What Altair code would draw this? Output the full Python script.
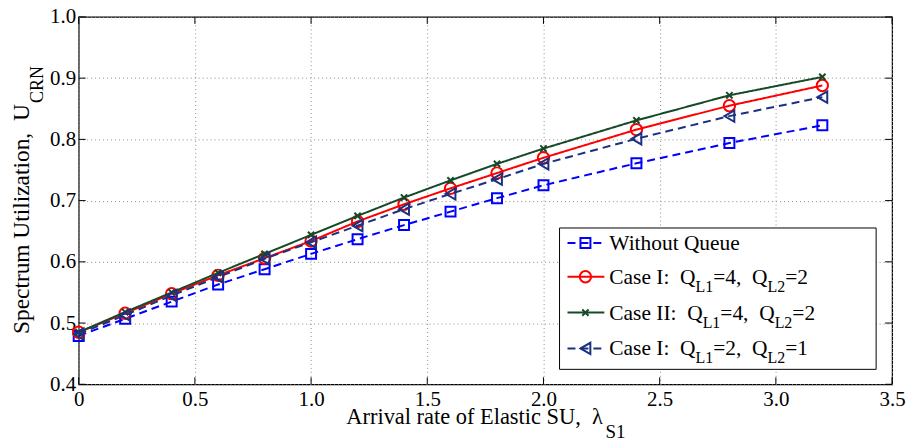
import altair as alt
import pandas as pd

# ---------------- data ----------------
x_vals = [0, 0.2, 0.4, 0.6, 0.8, 1.0, 1.2, 1.4, 1.6, 1.8, 2.0, 2.4, 2.8, 3.2]
without_queue = [0.479, 0.507, 0.535, 0.563, 0.588, 0.613, 0.637, 0.660, 0.682, 0.704, 0.725, 0.761, 0.794, 0.823]
case1_q42 = [0.485, 0.516, 0.548, 0.578, 0.606, 0.634, 0.666, 0.694, 0.720, 0.745, 0.770, 0.816, 0.855, 0.888]
case2_q42 = [0.485, 0.518, 0.550, 0.582, 0.613, 0.644, 0.675, 0.705, 0.733, 0.760, 0.785, 0.831, 0.872, 0.902]
case1_q21 = [0.482, 0.513, 0.545, 0.575, 0.605, 0.632, 0.659, 0.686, 0.711, 0.735, 0.760, 0.801, 0.838, 0.869]

series_names = ["Without Queue", "Case I 4-2", "Case II 4-2", "Case I 2-1"]
series_values = [without_queue, case1_q42, case2_q42, case1_q21]
x_ticks = [0, 0.5, 1.0, 1.5, 2.0, 2.5, 3.0, 3.5]
y_ticks = [0.4, 0.5, 0.6, 0.7, 0.8, 0.9, 1.0]

# legend label pieces: (text, is_subscript)
NB = "\u00a0"
legend_rows = [
    [("Without Queue", False)],
    [("Case I:" + NB + NB + "Q", False), ("L1", True), ("=4," + NB + NB + "Q", False), ("L2", True), ("=2", False)],
    [("Case II:" + NB + NB + "Q", False), ("L1", True), ("=4," + NB + NB + "Q", False), ("L2", True), ("=2", False)],
    [("Case I:" + NB + NB + "Q", False), ("L1", True), ("=2," + NB + NB + "Q", False), ("L2", True), ("=1", False)],
]

# ---------------- styles ----------------
colors = ["#0000ff", "#ff0000", "#154a28", "#1a3182"]
dashes = [[8, 5], [1, 0], [1, 0], [8, 5]]
shapes = ["square", "circle", "M-1,-1L1,1M-1,1L1,-1", "triangle-left"]
sizes = [100, 130, 40, 130]

FONT = "Liberation Serif"
W, H = 817, 369

# Times / Liberation Serif advance widths (per 1000 em)
TW = {" ": 250, NB: 250, ",": 250, ".": 250, ":": 278, "=": 564,
      "A": 722, "C": 667, "E": 611, "I": 333, "L": 611, "N": 722, "Q": 722,
      "R": 667, "S": 556, "U": 722, "W": 944,
      "a": 444, "c": 444, "e": 444, "f": 333, "h": 500, "i": 278, "l": 278,
      "m": 778, "n": 500, "o": 500, "p": 500, "r": 333, "s": 389, "t": 278,
      "u": 500, "v": 500, "z": 444, "\u03bb": 550}


def tw(s, size):
    return sum(TW.get(c, 500) for c in s) * size / 1000.0


rows = []
for name, vals in zip(series_names, series_values):
    for xv, yv in zip(x_vals, vals):
        rows.append({"x": xv, "u": yv, "series": name})
df = pd.DataFrame(rows)

x_scale = alt.Scale(domain=[0, 3.5], nice=False, zero=False)
y_scale = alt.Scale(domain=[0.4, 1.0], nice=False, zero=False)

x_axis = alt.Axis(values=x_ticks, title=None,
                  labelExpr="datum.value == 0 ? '0' : format(datum.value, '.1f')",
                  labelFlush=False, labelOverlap=False, labelPadding=4)
y_axis = alt.Axis(values=y_ticks, title=None, format=".1f",
                  labelFlush=False, labelOverlap=False, labelPadding=3)

xe = alt.X("x:Q", scale=x_scale, axis=x_axis)
ye = alt.Y("u:Q", scale=y_scale, axis=y_axis)

layers = []
for i, name in enumerate(series_names):
    sub = alt.Chart(df).transform_filter(alt.datum.series == name)
    line = sub.mark_line(color=colors[i], strokeWidth=2, strokeDash=dashes[i]).encode(x=xe, y=ye)
    pts = sub.mark_point(color=colors[i], filled=False, strokeWidth=2, opacity=1,
                         shape=shapes[i], size=sizes[i]).encode(x=xe, y=ye)
    layers += [line, pts]

# inward ticks (box style)
xt = pd.DataFrame({"x": x_ticks})
yt = pd.DataFrame({"u": y_ticks})
TL = 7
for y0, y1 in [(H, H - TL), (0, TL)]:
    layers.append(alt.Chart(xt).mark_rule(color="black", strokeWidth=1).encode(
        x=xe, y=alt.value(y0), y2=alt.value(y1)))
for x0, x1 in [(0, TL), (W - TL, W)]:
    layers.append(alt.Chart(yt).mark_rule(color="black", strokeWidth=1).encode(
        y=ye, x=alt.value(x0), x2=alt.value(x1)))

one = pd.DataFrame({"a": [0]})


def text_layer(txt, x, y, size, angle=0, align="left"):
    return alt.Chart(pd.DataFrame({"t": [txt]})).mark_text(
        font=FONT, fontSize=size, color="black", align=align, baseline="alphabetic",
        angle=angle).encode(x=alt.value(x), y=alt.value(y), text="t:N")


# x title with subscript
xt_main = "Arrival rate of Elastic SU," + NB + NB + "\u03bb"
xt_sub = "S1"
XM, XS = 22.5, 19
total = tw(xt_main, XM) + tw(xt_sub, XS)
x0 = W / 2 - total / 2
layers.append(text_layer(xt_main, x0, H + 40, XM))
layers.append(text_layer(xt_sub, x0 + tw(xt_main, XM) + 1, H + 54, XS))

# y title with subscript (rotated)
yt_main = "Spectrum Utilization," + NB + NB + "U"
yt_sub = "CRN"
YM, YS = 23.5, 18
total = tw(yt_main, YM) + tw(yt_sub, YS)
y0 = H / 2 + total / 2
layers.append(text_layer(yt_main, -50, y0, YM, angle=270))
layers.append(text_layer(yt_sub, -36, y0 - tw(yt_main, YM) - 1, YS, angle=270))

# legend box
LX0, LX1, LY0, LY1 = 483, 801, 212, 354
layers.append(alt.Chart(one).mark_rect(fill="white", stroke="black", strokeWidth=1).encode(
    x=alt.value(LX0), x2=alt.value(LX1), y=alt.value(LY0), y2=alt.value(LY1)))
row_y = [227, 261, 297, 333]
LM, LS = 21.5, 16
for i, ry in enumerate(row_y):
    layers.append(alt.Chart(one).mark_rule(color=colors[i], strokeWidth=2, strokeDash=dashes[i]).encode(
        x=alt.value(491), x2=alt.value(528), y=alt.value(ry)))
    layers.append(alt.Chart(one).mark_point(color=colors[i], filled=False, strokeWidth=2, opacity=1,
                                            shape=shapes[i], size=sizes[i]).encode(
        x=alt.value(509), y=alt.value(ry)))
    cx = 533
    for txt, is_sub in legend_rows[i]:
        if is_sub:
            layers.append(text_layer(txt, cx, ry + 15, LS))
            cx += tw(txt, LS)
        else:
            layers.append(text_layer(txt, cx, ry + 7, LM))
            cx += tw(txt, LM)

chart = alt.layer(*layers).properties(
    width=W, height=H,
    padding={"left": 71, "top": 8, "right": 15, "bottom": 56},
    autosize=alt.AutoSizeParams(type="none"),
).configure_view(stroke="black", strokeWidth=1.2).configure_axis(
    labelFont=FONT, labelFontSize=21, labelColor="black",
    domain=False, ticks=False, grid=True, gridColor="#8c8c8c", gridDash=[1, 3], gridWidth=1,
)

chart.save("out.html", embed_options={"renderer": "svg", "actions": False})
